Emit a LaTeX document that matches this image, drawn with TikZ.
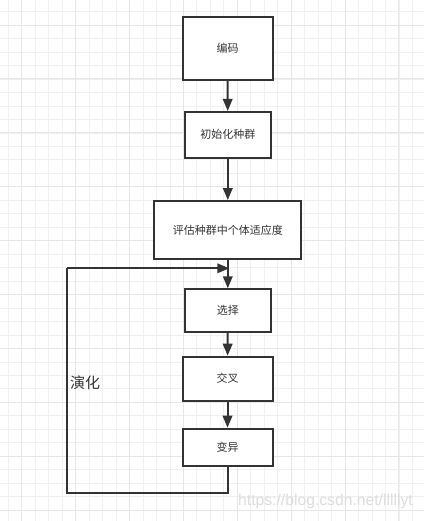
\documentclass[tikz,border=0pt]{standalone}
\usepackage{fontspec}
\setmainfont{Liberation Sans}
\newfontfamily\cjk{Noto Sans CJK SC}
\usetikzlibrary{arrows.meta}
\definecolor{lineclr}{HTML}{333333}
\definecolor{minorgrid}{HTML}{F0F0F0}
\definecolor{majorgrid}{HTML}{E6E6E6}
\definecolor{wmark}{HTML}{DDDDDD}
\tikzset{
  box/.style={draw=lineclr, line width=2pt, fill=white, inner sep=0pt,
    font=\cjk\fontsize{11}{13}\selectfont, text=lineclr},
  flow/.style={draw=lineclr, line width=2pt, -{Triangle[length=12pt,width=9.5pt]}},
  loopline/.style={draw=lineclr, line width=2pt},
}
\begin{document}
\begin{tikzpicture}[x=1pt,y=-1pt]
\useasboundingbox (0,0) rectangle (424,521);
\fill[white] (0,0) rectangle (424,521);
% grid
\foreach \k in {0,...,31}{
  \pgfmathsetmacro\gx{8.3+13.47*\k}
  \draw[minorgrid, line width=0.8pt] (\gx,0) -- (\gx,521);
}
\foreach \k in {0,...,38}{
  \pgfmathsetmacro\gy{11.7+13.47*\k}
  \draw[minorgrid, line width=0.8pt] (0,\gy) -- (424,\gy);
}
\foreach \k in {0,...,7}{
  \pgfmathsetmacro\gx{21.7+53.88*\k}
  \draw[majorgrid, line width=0.8pt] (\gx,0) -- (\gx,521);
}
\foreach \k in {0,...,9}{
  \pgfmathsetmacro\gy{25+53.88*\k}
  \draw[majorgrid, line width=0.8pt] (0,\gy) -- (424,\gy);
}
% nodes
\node[box, minimum width=90pt, minimum height=62.7pt] (enc) at (227.5,48.7) {编码};
\node[box, minimum width=85.7pt, minimum height=45.7pt] (init) at (227.8,134.8) {初始化种群};
\node[box, minimum width=147pt, minimum height=58.3pt] (eval) at (227.8,230.2) {评估种群中个体适应度};
\node[box, minimum width=86pt, minimum height=42.4pt] (sel) at (227.8,310.5) {选择};
\node[box, minimum width=90pt, minimum height=44pt] (cross) at (227.5,378.7) {交叉};
\node[box, minimum width=90pt, minimum height=37pt] (mut) at (227.5,447.2) {变异};
\coordinate (join) at (227.8,268.3);
\coordinate (bl) at (66.7,492.7);
\coordinate (tl) at (66.7,268.3);
% connectors
\draw[flow] (enc) -- (init);
\draw[flow] (init) -- (eval);
\draw[flow] (eval) -- (sel);
\draw[flow] (sel) -- (cross);
\draw[flow] (cross) -- (mut);
\draw[loopline] (mut.south) |- (bl) -- (tl);
\draw[flow] (tl) -- ([xshift=1.5pt]join);
% labels
\node[font=\cjk\fontsize{15}{17}\selectfont, text=lineclr, anchor=west, inner sep=0pt] (evo) at (70,382.7) {演化};
\node[font=\fontsize{15.7}{18}\selectfont, text=wmark, anchor=base west, inner sep=0pt] (wm) at (238,505) {https://blog.csdn.net/lllllyt};
\end{tikzpicture}
\end{document}
